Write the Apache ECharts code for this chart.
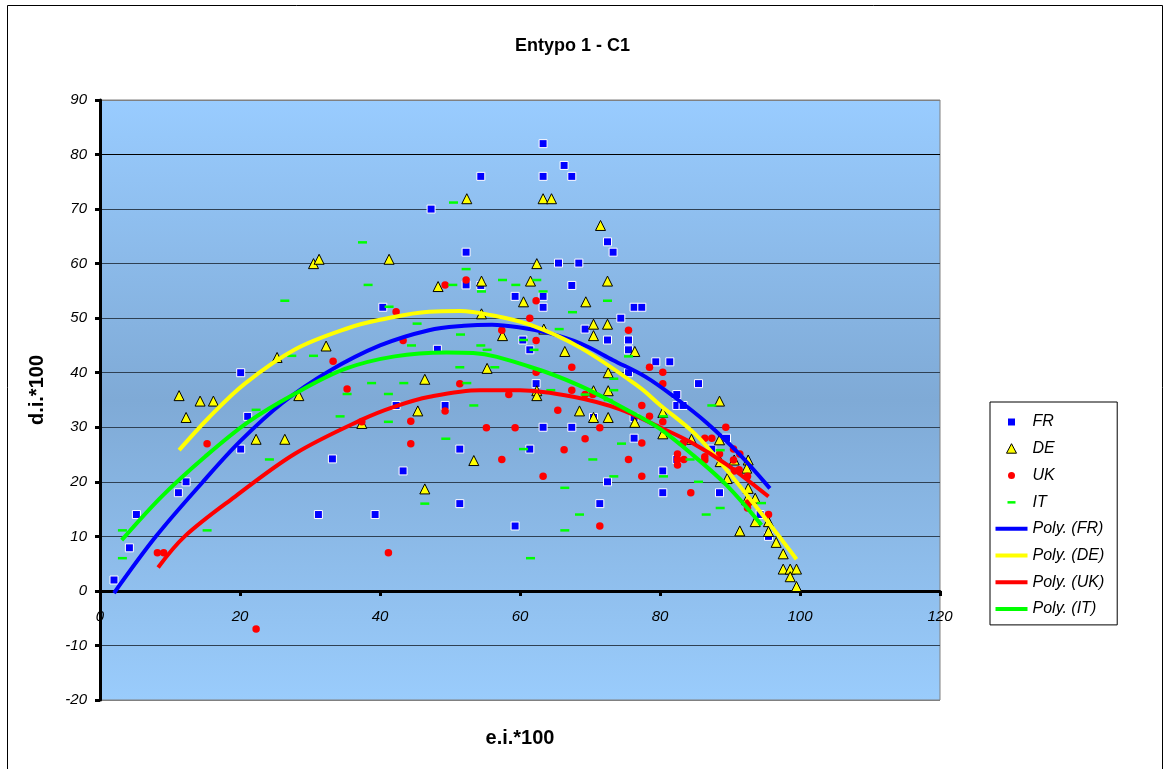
<!DOCTYPE html>
<html>
<head>
<meta charset="utf-8">
<title>Entypo 1 - C1</title>
<script src="https://cdn.jsdelivr.net/npm/echarts@6/dist/echarts.min.js"></script>
<style>
  html, body { margin: 0; padding: 0; background: #ffffff; }
  #chart { width: 1168px; height: 769px; }
</style>
</head>
<body>
<div id="chart"></div>
<script>
// ---- data: [e.i.*100, d.i.*100] ----
const frPoints = [[2,2],[4.2,7.9],[5.2,14],[11.2,18],[12.3,20],[20.1,40],[21.1,32],[20.1,26],[31.2,14],[33.2,24.2],[39.3,14],[40.4,52],[42.3,34],[43.3,22],[47.3,70],[48.2,44.3],[49.3,34],[51.4,26],[51.4,16],[52.3,62.1],[52.3,56.1],[54.4,76],[54.4,56],[59.3,11.9],[59.3,54],[60.4,46],[61.4,44.2],[61.4,26],[62.3,38],[63.3,82],[63.3,76],[63.3,54],[63.3,52],[63.3,30],[65.5,60.1],[66.3,78],[67.4,76],[67.4,56],[67.4,30],[68.4,60.1],[69.3,48],[70.5,31.8],[71.4,16],[72.5,64],[72.5,46],[72.5,20],[73.3,62.1],[74.4,50],[75.5,46],[75.5,44.2],[75.5,40],[76.3,52],[77.4,52],[76.3,31.8],[76.3,28],[79.4,42],[80.4,22],[80.4,18],[81.4,42],[82.4,36],[82.4,34],[82.4,24.1],[83.3,34],[85.5,38],[87.4,26],[88.5,18],[89.5,28],[94.3,14],[95.5,10]];

const dePoints = [[11.3,35.8],[12.3,31.8],[14.3,34.8],[16.2,34.8],[22.3,27.8],[25.3,42.8],[26.4,27.8],[28.4,35.8],[30.5,60],[31.3,60.8],[32.3,44.9],[37.4,30.7],[41.3,60.8],[45.4,33],[46.4,38.8],[46.4,18.7],[48.3,55.8],[52.4,71.9],[53.4,23.9],[54.5,56.8],[54.5,50.8],[55.3,40.8],[57.5,46.8],[60.5,53],[61.5,56.8],[62.4,60],[62.4,36.7],[62.4,35.8],[63.3,71.9],[64.5,71.9],[63.4,48],[66.4,43.9],[68.5,33],[69.4,53],[70.5,48.9],[70.5,46.8],[70.5,36.7],[70.5,31.8],[71.5,67],[72.5,56.8],[72.5,48.9],[72.6,40],[72.6,36.7],[72.6,31.8],[76.4,43.9],[76.4,30.9],[80.4,32.7],[80.4,28.8],[84.5,27.8],[88.5,34.8],[88.5,27.7],[88.6,23.7],[89.6,20.6],[90.6,24],[92.6,24],[92.4,22.5],[91.4,11],[92.6,18.8],[92.4,16.7],[93.6,17],[93.6,12.7],[95.5,12.7],[95.5,10.9],[96.6,8.9],[97.6,6.8],[97.6,4],[98.6,4],[99.5,4],[98.6,2.6],[99.5,0.8]];

const ukPoints = [[8.2,7],[9.1,7],[15.3,27],[22.3,-7],[33.3,42.1],[35.3,37],[37.4,31],[41.2,7],[42.3,51.2],[43.3,45.9],[44.4,31.1],[44.4,27],[49.3,56.1],[52.3,57],[51.4,38],[49.3,33],[57.4,47.8],[58.4,36],[55.2,29.9],[59.3,29.9],[57.4,24.1],[62.3,53.2],[61.4,50],[62.3,45.9],[62.3,40.1],[63.3,21],[65.4,33.1],[66.3,25.9],[67.4,41],[67.4,36.8],[69.3,36],[70.4,36],[71.4,29.9],[69.3,27.9],[71.4,11.9],[75.5,47.8],[78.5,41],[80.4,40.1],[80.4,38],[77.4,34],[78.5,32],[80.4,31],[77.4,27.1],[75.5,24.1],[77.4,21],[82.5,25.1],[82.5,24.1],[82.5,23.1],[83.4,24.1],[83.3,27.1],[84.4,18],[86.4,28],[87.4,28],[86.4,24.6],[86.4,24],[88.5,25.1],[89.4,30],[90.5,26],[91.4,25.1],[90.5,24],[91.3,22.2],[90.6,22],[92.5,21],[92.6,16.1],[92.5,15.2],[95.5,14]];

const itPoints = [[3.2,11.1],[3.2,6],[15.3,11.1],[22.3,33.2],[24.2,24.1],[26.4,53.2],[27.4,43.1],[30.5,43.1],[34.3,32],[35.3,36.1],[37.5,63.9],[38.3,56.1],[38.8,38.1],[41.3,52.1],[41.2,36.1],[41.2,31],[43.4,38.1],[44.5,45],[45.3,49],[46.4,16],[49.4,27.9],[50.5,71.2],[50.4,56.1],[51.5,47],[51.4,41],[52.3,59],[52.4,38.1],[53.4,34],[54.5,54.9],[54.4,45],[55.3,44.2],[56.4,41],[57.5,57],[59.4,56.1],[60.5,46],[60.5,26],[61.5,6],[62.4,57],[62,44.2],[63.3,54.9],[64.4,36.8],[65.6,48],[66.4,18.9],[66.4,11.1],[67.5,51.1],[68.5,14],[69.3,36],[70.4,24.1],[72.5,53.2],[72.6,35],[73.4,38.9],[73.4,36.8],[73.4,21],[74.5,27],[75.5,43],[80.5,32],[80.5,21],[84.3,24.1],[85.5,20],[86.6,14],[87.4,34],[88.6,25.8],[88.6,15.2],[94.5,16.1]];

// second-order trend curves, sampled along each fitted line
const frTrend = [[2,-0.4],[8,10],[14.5,19.7],[20,27.4],[26,34.4],[32.6,40.2],[40,45],[47,47.8],[52,48.6],[56,48.8],[60,48.3],[64,47.3],[68.6,45.4],[73.3,42.3],[78,39.2],[82,35.6],[86.7,30.8],[91.4,25],[95.7,18.8]];
const deTrend = [[11.3,25.8],[15.5,31.7],[20.7,38],[27.9,44.3],[35.5,48.2],[40,49.7],[47,51.2],[51.4,51.3],[55.7,50.6],[61.4,48.8],[68.6,44.6],[77,37.4],[80,34.1],[85,28.8],[89.5,22.2],[94.3,14.5],[99.5,5.8]];
const ukTrend = [[8.3,4.3],[12.1,10],[19.3,17.3],[27.9,25.2],[37.4,31.4],[42.1,33.8],[47.1,35.6],[54.3,36.8],[60,36.8],[67.6,35.6],[74.3,33.3],[80,30],[84.8,27],[89.5,23.2],[95.5,17.3]];
const itTrend = [[3.1,9.3],[8.8,17.3],[15,24.6],[21.2,31],[27.9,36.2],[35,40.7],[42.1,43],[49.5,43.7],[53.3,43.6],[61.4,41.1],[68.6,37.6],[75.7,32.9],[80,29.7],[84.8,24.8],[89.5,19.4],[94.5,12.1]];

const seriesNames = ['FR', 'DE', 'UK', 'IT'];
const trendNames = ['Poly. (FR)', 'Poly. (DE)', 'Poly. (UK)', 'Poly. (IT)'];
const chartTitle = 'Entypo 1 - C1';
const xTitle = 'e.i.*100';
const yTitle = 'd.i.*100';

const FONT = 'Arial, "Liberation Sans", sans-serif';
const BLUE = '#0000ff', YELLOW = '#ffff00', RED = '#ff0000', GREEN = '#00ff00';

const Y_MIN = -20, Y_MAX = 90;
const GRID_TOP = 100, GRID_BOTTOM = 69, CHART_H = 769;

// horizontal grid line colours, one per tick from -20 up to 90
const gridLineColors = ['#808080', '#2e4053', '#000000', '#2e4053', '#2e4053', '#2e4053', '#2e4053', '#2e4053', '#2e4053', '#2e4053', '#000000', '#808080'];

// legend swatches: each path spans a 32x14 box so it is drawn unscaled
const ICON_SQUARE = 'path://M0,0M32,14M12.5,3.5h7v7h-7z';
const ICON_TRIANGLE = 'path://M0,0M32,14M16,2L21,11.5H11Z';
const ICON_CIRCLE = 'path://M0,0M32,14M19.5,7A3.5,3.5,0,1,1,12.5,7A3.5,3.5,0,1,1,19.5,7Z';
const ICON_DASH = 'path://M0,0M32,14M12,6h8v2.5h-8z';
const ICON_LINE = 'path://M0,0M32,14M0,5h32v4h-32z';

// lift the x axis from the plot bottom up to the y = 0 level
const plotH = CHART_H - GRID_TOP - GRID_BOTTOM;
const xAxisLift = -plotH * (0 - Y_MIN) / (Y_MAX - Y_MIN);

const chart = echarts.init(document.getElementById('chart'), null, { renderer: 'canvas' });

const lineSeries = (name, data, color) => ({
  name, type: 'line', data, smooth: 0.35, symbol: 'none', showSymbol: false,
  lineStyle: { color, width: 4 }, itemStyle: { color }, z: 5
});

chart.setOption({
  animation: false,
  backgroundColor: '#ffffff',
  title: {
    text: chartTitle,
    left: 510, top: 32,
    textStyle: { fontFamily: FONT, fontSize: 18, fontWeight: 'bold', color: '#000' }
  },
  graphic: [{
    type: 'rect', z: -10, silent: true,
    shape: { x: 7.5, y: 5.5, width: 1155, height: 800 },
    style: { fill: 'none', stroke: '#000', lineWidth: 1 }
  }],
  legend: {
    orient: 'vertical',
    left: 990, top: 402,
    padding: [12, 13, 8, 5],
    itemWidth: 32, itemHeight: 14, itemGap: 10.7,
    backgroundColor: '#ffffff',
    borderColor: '#000', borderWidth: 1,
    textStyle: { fontFamily: FONT, fontSize: 16, fontStyle: 'italic', color: '#000', lineHeight: 16 },
    data: [
      { name: seriesNames[0], icon: ICON_SQUARE, itemStyle: { color: BLUE, borderWidth: 0 } },
      { name: seriesNames[1], icon: ICON_TRIANGLE, itemStyle: { color: YELLOW, borderColor: '#000', borderWidth: 1 } },
      { name: seriesNames[2], icon: ICON_CIRCLE, itemStyle: { color: RED, borderWidth: 0 } },
      { name: seriesNames[3], icon: ICON_DASH, itemStyle: { color: GREEN, borderWidth: 0 } },
      { name: trendNames[0], icon: ICON_LINE, itemStyle: { color: BLUE, borderWidth: 0 } },
      { name: trendNames[1], icon: ICON_LINE, itemStyle: { color: YELLOW, borderWidth: 0 } },
      { name: trendNames[2], icon: ICON_LINE, itemStyle: { color: RED, borderWidth: 0 } },
      { name: trendNames[3], icon: ICON_LINE, itemStyle: { color: GREEN, borderWidth: 0 } }
    ]
  },
  grid: {
    left: 100, right: 228, top: GRID_TOP, bottom: GRID_BOTTOM,
    outerBoundsMode: 'none',
    containLabel: false,
    show: true,
    borderColor: '#808080', borderWidth: 1,
    backgroundColor: new echarts.graphic.LinearGradient(0, 0, 0, 1, [
      { offset: 0, color: '#99ccff' },
      { offset: 0.5, color: '#7faad6' },
      { offset: 1, color: '#9accfc' }
    ])
  },
  xAxis: {
    type: 'value', min: 0, max: 120, interval: 20,
    position: 'bottom', offset: xAxisLift,
    name: xTitle, nameLocation: 'middle', nameGap: 138,
    nameTextStyle: { fontFamily: FONT, fontSize: 20, fontWeight: 'bold', color: '#000' },
    axisLine: { show: true, onZero: false, lineStyle: { color: '#000', width: 3 } },
    axisTick: { show: true, inside: false, length: 5, lineStyle: { color: '#000', width: 3 } },
    axisLabel: { margin: 18, fontFamily: FONT, fontSize: 15, fontStyle: 'italic', color: '#000' },
    splitLine: { show: false }
  },
  yAxis: {
    type: 'value', min: Y_MIN, max: Y_MAX, interval: 10,
    name: yTitle, nameLocation: 'middle', nameGap: 53,
    nameTextStyle: { fontFamily: FONT, fontSize: 20, fontWeight: 'bold', color: '#000', padding: [0, 0, 0, 20] },
    axisLine: { show: true, onZero: false, lineStyle: { color: '#000', width: 3 } },
    axisTick: { show: true, inside: false, length: 5, lineStyle: { color: '#000', width: 3 } },
    axisLabel: { margin: 13, fontFamily: FONT, fontSize: 15, fontStyle: 'italic', color: '#000' },
    splitLine: { show: true, lineStyle: { color: gridLineColors, width: 1 } }
  },
  series: [
    { name: seriesNames[0], type: 'scatter', data: frPoints, symbol: 'rect', symbolSize: 8,
      itemStyle: { color: BLUE, borderColor: '#ffffff', borderWidth: 1, opacity: 1 }, z: 3 },
    { name: seriesNames[1], type: 'scatter', data: dePoints, symbol: 'triangle', symbolSize: [10, 10],
      itemStyle: { color: YELLOW, borderColor: '#000000', borderWidth: 1, opacity: 1 }, z: 3 },
    { name: seriesNames[2], type: 'scatter', data: ukPoints, symbol: 'circle', symbolSize: 7.5,
      itemStyle: { color: RED, opacity: 1 }, z: 3 },
    { name: seriesNames[3], type: 'scatter', data: itPoints, symbol: 'rect', symbolSize: [9, 2.5],
      itemStyle: { color: GREEN, opacity: 1 }, z: 3 },
    lineSeries(trendNames[0], frTrend, BLUE),
    lineSeries(trendNames[1], deTrend, YELLOW),
    lineSeries(trendNames[2], ukTrend, RED),
    lineSeries(trendNames[3], itTrend, GREEN)
  ]
});
</script>
</body>
</html>
